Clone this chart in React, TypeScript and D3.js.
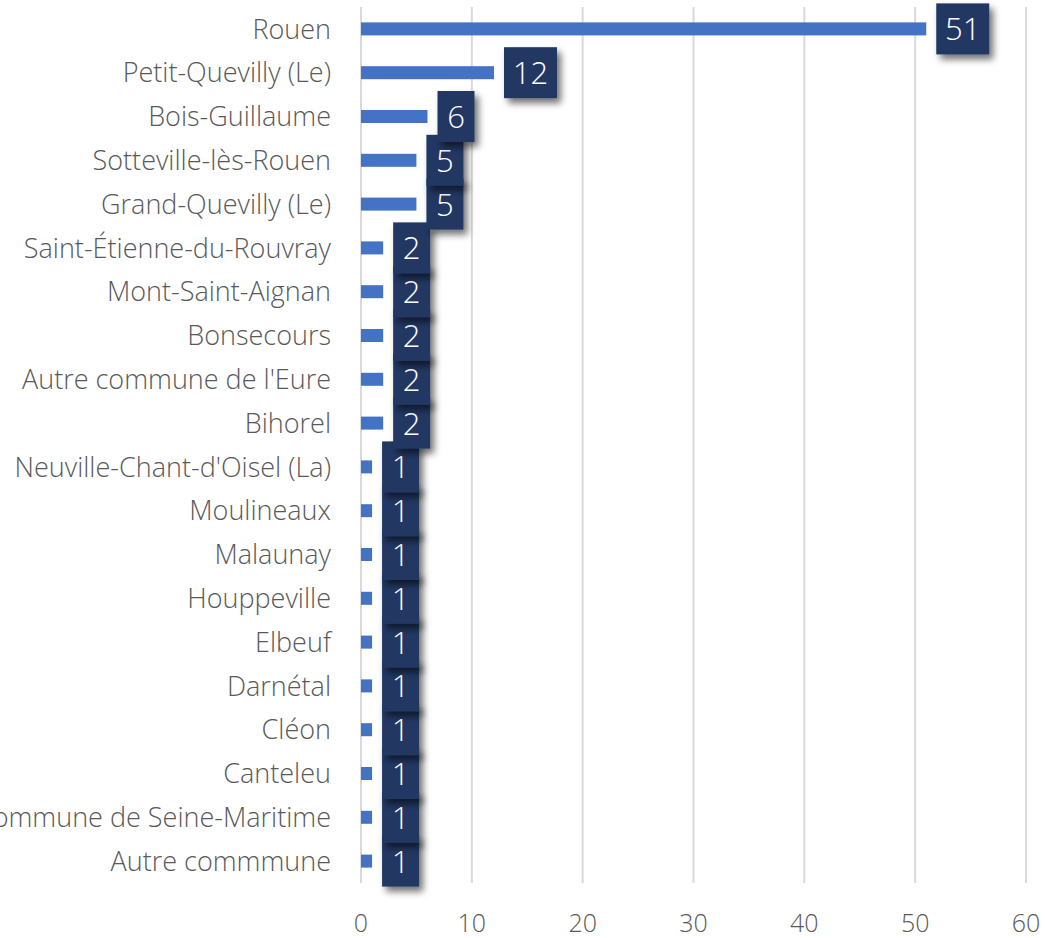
import React from "react";
import * as d3 from "d3";

const categories = [
  "Rouen",
  "Petit-Quevilly (Le)",
  "Bois-Guillaume",
  "Sotteville-lès-Rouen",
  "Grand-Quevilly (Le)",
  "Saint-Étienne-du-Rouvray",
  "Mont-Saint-Aignan",
  "Bonsecours",
  "Autre commune de l'Eure",
  "Bihorel",
  "Neuville-Chant-d'Oisel (La)",
  "Moulineaux",
  "Malaunay",
  "Houppeville",
  "Elbeuf",
  "Darnétal",
  "Cléon",
  "Canteleu",
  "Autre commune de Seine-Maritime",
  "Autre commmune",
];
const values = [51, 12, 6, 5, 5, 2, 2, 2, 2, 2, 1, 1, 1, 1, 1, 1, 1, 1, 1, 1];
const xTicks = [0, 10, 20, 30, 40, 50, 60];

const W = 1045;
const H = 938;
const left = 361;
const right = 1026;
const top = 7;
const bottom = 883;

export default function App() {
  const x = d3.scaleLinear().domain([0, 60]).range([left, right]);
  const y = d3
    .scaleBand<string>()
    .domain(categories)
    .range([top, bottom])
    .paddingInner(0)
    .paddingOuter(0);
  const bw = y.bandwidth();
  const barH = 13;
  const boxH = 51;
  const font = "'Open Sans', 'DejaVu Sans', sans-serif";
  const rows = categories.map((c, i) => ({ c, v: values[i], i }));

  return (
    <svg
      width={W}
      height={H}
      style={{ position: "absolute", left: 0, top: 0, background: "#fff" }}
    >
      <defs>
        <filter id="sh" x="-30%" y="-30%" width="180%" height="180%">
          <feDropShadow dx="4" dy="5" stdDeviation="3.5" floodColor="#000" floodOpacity="0.55" />
        </filter>
      </defs>
      <rect x={0} y={0} width={W} height={H} fill="#fff" />
      {xTicks.map((t) => (
        <g key={t}>
          <line x1={x(t)} x2={x(t)} y1={top} y2={bottom} stroke="#d9d9d9" strokeWidth={2} />
          <text
            x={x(t)}
            y={932}
            textAnchor="middle"
            fontFamily={font}
            fontWeight={300}
            fontSize={25}
            fill="#595959"
          >
            {t}
          </text>
        </g>
      ))}
      {rows.map((r) => (
        <g key={r.c}>
          <text
            x={331}
            y={(y(r.c) as number) + bw / 2}
            dy="0.36em"
            textAnchor="end"
            fontFamily={font}
            fontWeight={300}
            fontSize={27}
            fill="#595959"
          >
            {r.c}
          </text>
          <rect
            x={x(0)}
            y={(y(r.c) as number) + bw / 2 - barH / 2}
            width={x(r.v) - x(0)}
            height={barH}
            fill="#4472C4"
          />
        </g>
      ))}
      {rows
        .slice()
        .reverse()
        .map((r) => {
          const s = String(r.v);
          const boxW = 21 + 16 * s.length;
          const bx = x(r.v) + 10;
          const cy = (y(r.c) as number) + bw / 2;
          return (
            <g key={"l" + r.c}>
              <rect
                x={bx}
                y={cy - boxH / 2}
                width={boxW}
                height={boxH}
                fill="#203864"
                filter="url(#sh)"
              />
              <text
                x={bx + boxW / 2}
                y={cy}
                dy="0.37em"
                textAnchor="middle"
                fontFamily={font}
                fontWeight={300}
                fontSize={31}
                fill="#fff"
              >
                {s}
              </text>
            </g>
          );
        })}
    </svg>
  );
}
